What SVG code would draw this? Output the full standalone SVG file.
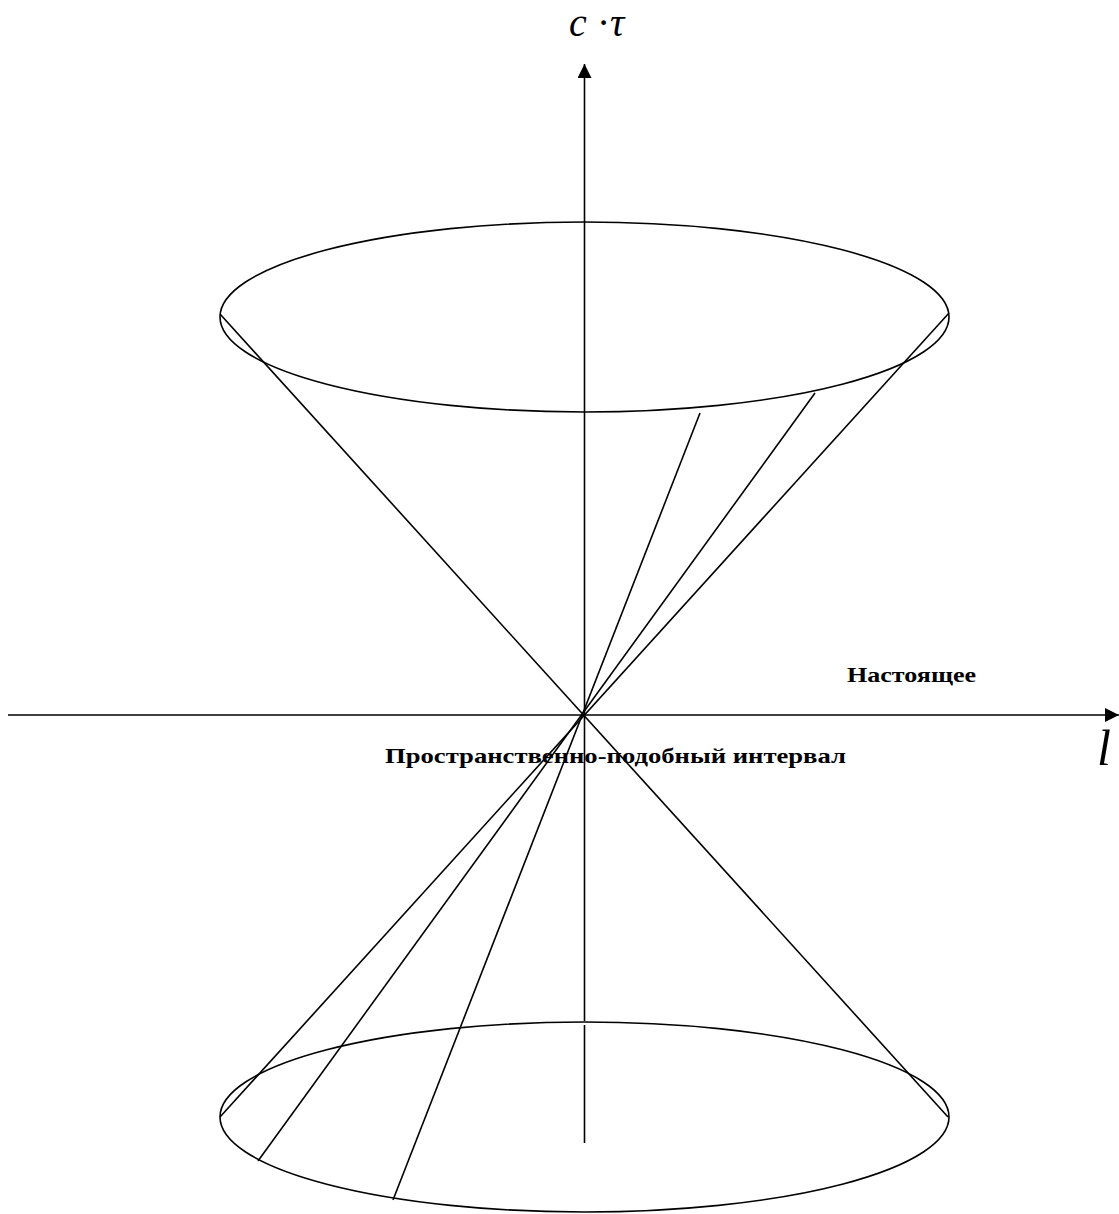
<svg xmlns="http://www.w3.org/2000/svg" width="1119" height="1214" viewBox="0 0 1119 1214">
<style>
.ln{stroke:#000;stroke-width:1.6;fill:none}
.lbl{font-family:"Liberation Serif","Times New Roman",serif;font-weight:bold;font-size:21px;fill:#000}
.ax{font-family:"Liberation Serif","Times New Roman",serif;font-style:italic;fill:#000}
</style>
<defs>
<marker id="ah" viewBox="0 0 14 14" refX="14" refY="7" markerWidth="14" markerHeight="14" markerUnits="userSpaceOnUse" orient="auto">
<path d="M0,0 L14,7 L0,14 Z" fill="#000"/>
</marker>
</defs>
<rect width="1119" height="1214" fill="#fff"/>
<g id="top-ellipse"><ellipse class="ln" cx="584.5" cy="317" rx="364.5" ry="95"/></g>
<g id="bottom-ellipse"><ellipse class="ln" cx="584.5" cy="1117" rx="364.5" ry="95"/></g>
<g id="connectors">
<line class="ln" x1="584.5" y1="1021" x2="584.5" y2="64" marker-end="url(#ah)"/>
<line class="ln" x1="584.5" y1="1025" x2="584.5" y2="1143"/>
<line class="ln" x1="8" y1="715" x2="1119" y2="715" marker-end="url(#ah)"/>
<line class="ln" x1="220" y1="314" x2="948" y2="1117"/>
<line class="ln" x1="949" y1="313" x2="220" y2="1117"/>
<line class="ln" x1="700" y1="413" x2="393" y2="1200"/>
<line class="ln" x1="815" y1="393" x2="258" y2="1161"/>
</g>
<g id="labels">
<text class="ax" x="569" y="36" font-size="40">c</text>
<text class="ax" x="598" y="36" font-size="40">·</text>
<text class="ax" x="610" y="36" font-size="40">τ</text>
<text class="ax" x="1097" y="765" font-size="50">l</text>
<text class="lbl" x="847" y="682" textLength="129" lengthAdjust="spacingAndGlyphs">Настоящее</text>
<text class="lbl" x="385" y="763" textLength="461" lengthAdjust="spacingAndGlyphs">Пространственно-подобный интервал</text>
</g>
</svg>
